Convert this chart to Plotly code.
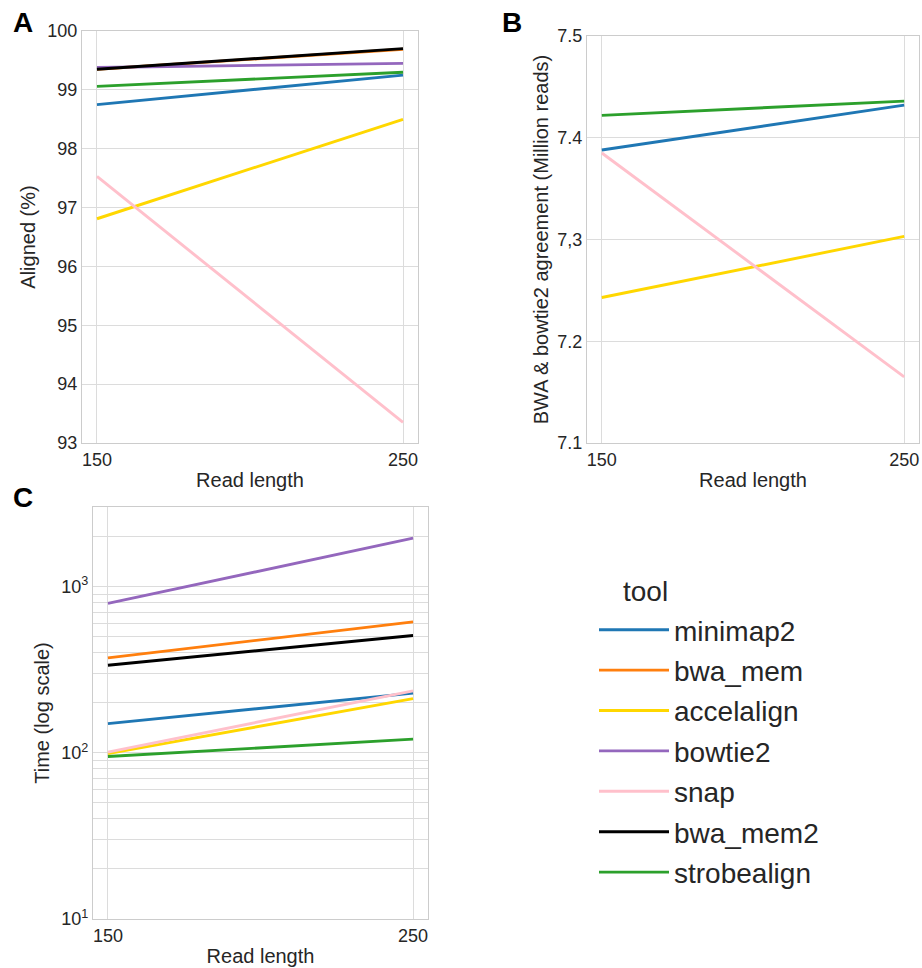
import plotly.graph_objects as go

read_length = [150, 250]
tools = ["minimap2", "bwa_mem", "accelalign", "bowtie2", "snap", "bwa_mem2", "strobealign"]
colors = ["#1f77b4", "#ff7f0e", "#ffd700", "#9467bd", "#ffc0cb", "#000000", "#2ca02c"]

aligned_pct = {
    "minimap2": [98.75, 99.25],
    "bwa_mem": [99.35, 99.69],
    "accelalign": [96.81, 98.50],
    "bowtie2": [99.38, 99.45],
    "snap": [97.53, 93.35],
    "bwa_mem2": [99.35, 99.70],
    "strobealign": [99.06, 99.30],
}
agreement_mreads = {
    "minimap2": [7.388, 7.432],
    "bwa_mem": None,
    "accelalign": [7.243, 7.303],
    "bowtie2": None,
    "snap": [7.385, 7.165],
    "bwa_mem2": None,
    "strobealign": [7.422, 7.436],
}
time_s = {
    "minimap2": [150, 229],
    "bwa_mem": [373, 615],
    "accelalign": [99, 212],
    "bowtie2": [794, 1960],
    "snap": [101, 236],
    "bwa_mem2": [337, 509],
    "strobealign": [95, 121],
}

b_tickvals = [7.1, 7.2, 7.3, 7.4, 7.5]
b_ticktext = ["7.1", "7.2", "7,3", "7.4", "7.5"]

c_tickvals = []
c_ticktext = []
for dec in [10, 100, 1000]:
    for m in range(1, 10):
        v = dec * m
        if v > 3000:
            break
        c_tickvals.append(v)
        if m == 1:
            exp = {10: 1, 100: 2, 1000: 3}[dec]
            c_ticktext.append("10<sup>%d</sup>" % exp)
        else:
            c_ticktext.append("")

FONT = "Liberation Sans, Arial, sans-serif"
TXT = "#262626"
GRID = "#dcdcdc"
LINE = "#cccccc"
LW = 2.9

fig = go.Figure()

for i, t in enumerate(tools):
    fig.add_trace(go.Scatter(x=read_length, y=aligned_pct[t], mode="lines",
                             line=dict(color=colors[i], width=LW), name=t,
                             showlegend=False, xaxis="x", yaxis="y"))
    if agreement_mreads[t] is not None:
        fig.add_trace(go.Scatter(x=read_length, y=agreement_mreads[t], mode="lines",
                                 line=dict(color=colors[i], width=LW), name=t,
                                 showlegend=False, xaxis="x2", yaxis="y2"))
    fig.add_trace(go.Scatter(x=read_length, y=time_s[t], mode="lines",
                             line=dict(color=colors[i], width=LW), name=t,
                             legendgroup=t, showlegend=True, xaxis="x3", yaxis="y3"))

W, H = 922, 968

def xd(a, b):
    return [a / W, b / W]

def yd(top, bottom):
    return [1 - bottom / H, 1 - top / H]

TF = dict(size=18, color=TXT, family=FONT)
TTF = dict(size=20, color=TXT, family=FONT)

common = dict(showline=True, mirror=True, linecolor=LINE, linewidth=1.2,
              showgrid=True, gridcolor=GRID, gridwidth=1, zeroline=False,
              ticks="", tickfont=TF, automargin=False)

def xaxis_spec(domain, anchor, standoff):
    return dict(common, domain=domain, anchor=anchor, tickvals=[150, 250],
                range=[145.1, 254.9],
                title=dict(text="Read length", font=TTF, standoff=standoff))

fig.update_layout(
    width=W, height=H,
    margin=dict(l=0, r=0, t=0, b=0),
    paper_bgcolor="white", plot_bgcolor="white",
    font=dict(family=FONT, color=TXT),
    xaxis=xaxis_spec(xd(82, 418), "y", 4),
    yaxis=dict(common, domain=yd(31, 443), anchor="x", range=[93, 100], dtick=1,
               title=dict(text="Aligned (%)", font=TTF, standoff=6)),
    xaxis2=xaxis_spec(xd(587, 919), "y2", 4),
    yaxis2=dict(common, domain=yd(36, 443), anchor="x2", range=[7.1, 7.5],
                tickvals=b_tickvals, ticktext=b_ticktext,
                title=dict(text="BWA & bowtie2 agreement (Million reads)", font=TTF, standoff=3)),
    xaxis3=xaxis_spec(xd(93, 428), "y3", 4),
    yaxis3=dict(common, domain=yd(507, 919), anchor="x3", type="log",
                range=[1, 3.48], tickvals=c_tickvals, ticktext=c_ticktext,
                title=dict(text="Time (log scale)", font=TTF, standoff=6)),
    legend=dict(x=594 / W, y=1 - 605 / H, xanchor="left", yanchor="top",
                font=dict(size=28, color=TXT, family=FONT),
                itemwidth=70, tracegroupgap=1, bgcolor="rgba(0,0,0,0)"),
    annotations=[
        dict(text="<b>A</b>", x=23 / W, y=1 - 23 / H, xref="paper", yref="paper",
             xanchor="center", yanchor="middle",
             showarrow=False, font=dict(size=28, color="black", family=FONT)),
        dict(text="<b>B</b>", x=512 / W, y=1 - 23 / H, xref="paper", yref="paper",
             xanchor="center", yanchor="middle",
             showarrow=False, font=dict(size=28, color="black", family=FONT)),
        dict(text="<b>C</b>", x=23 / W, y=1 - 497 / H, xref="paper", yref="paper",
             xanchor="center", yanchor="middle",
             showarrow=False, font=dict(size=28, color="black", family=FONT)),
        dict(text="tool", x=645 / W, y=1 - 591 / H, xref="paper", yref="paper",
             xanchor="center", yanchor="middle",
             showarrow=False, font=dict(size=28, color=TXT, family=FONT)),
    ],
)

fig.write_html("out.html")
